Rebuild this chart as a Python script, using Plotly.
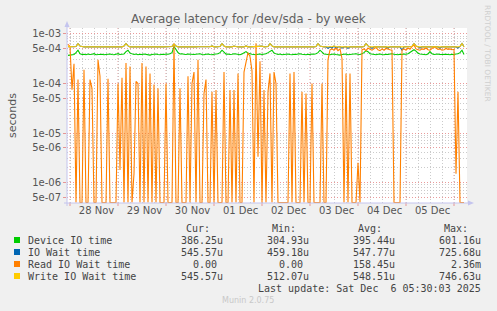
import plotly.graph_objects as go
from datetime import datetime, timedelta

# ---------------- data (hourly samples, microseconds) ----------------
START = datetime(2025, 11, 27, 23, 0)

device_io_us = [
    370, 375, 380, 385, 420, 470,
    400, 385, 390, 380, 395, 385, 390, 400, 380, 385, 395, 390, 380, 385, 390, 395, 385, 380, 390, 400, 385, 390, 395,
    440, 470, 410,
    390, 385, 395, 380, 390, 385, 395, 390, 380, 375, 385, 390, 395, 385, 380, 390, 385, 395, 390, 400, 420,
    560, 470, 420,
    395, 400, 390, 385, 395, 390, 380, 385, 390, 395, 400, 385, 380, 390, 395, 385, 380, 390, 395, 400, 420,
    470, 430,
    390, 395, 385, 390, 400, 395, 385, 380, 395, 420, 440, 410, 395, 390, 385, 380, 390, 395, 385, 390, 400, 420,
    450, 470, 410,
    390, 385, 395, 380, 385, 390, 395, 385, 380, 390, 385, 395, 400, 390, 385, 380, 390, 385, 395, 390, 400, 420,
    470, 420,
    395, 390, 385, 380, 390, 395, 385, 380, 375, 385, 390, 395, 380, 385, 390, 395, 400, 390, 385, 400, 420,
    460, 440,
    400, 390, 385, 380, 390, 395, 385, 380, 390, 385, 395, 400, 390, 385, 380, 390, 385, 395, 390, 400, 420, 440,
    480, 450,
    410, 395, 390, 385, 380, 395, 440, 400, 385, 390, 395, 385, 390, 395, 390, 385, 380, 390, 385, 395, 400, 420,
    470, 386,
]

io_wait_us = [
    555, 550, 548, 552, 560, 640, 570, 550, 548, 552,
    550, 548, 552, 550, 548, 550, 552, 550, 548, 550,
    552, 550, 548, 550, 552, 550, 548, 550, 570, 640,
    575, 550, 548, 552, 550, 548, 550, 552, 550, 548,
    550, 552, 550, 548, 550, 552, 550, 548, 550, 552,
    550, 548, 560, 620, 570, 550, 548, 552, 550, 548,
    550, 552, 550, 548, 550, 552, 550, 548, 550, 552,
    550, 552, 575, 550, 548, 552, 560, 640, 570, 550,
    548, 552, 550, 570, 550, 548, 552, 550, 548, 575,
    550, 548, 552, 550, 548, 550, 552, 570, 550, 548,
    560, 640, 575, 550, 548, 552, 550, 548, 550, 552,
    550, 548, 550, 552, 550, 548, 550, 552, 550, 548,
    550, 552, 550, 548, 560, 640, 570, 550, 548, 552,
    515, 548, 520, 570, 515, 548, 552, 520, 548, 550,
    515, 550, 548, 550, 552, 550, 548, 550, 560, 640,
    575, 550, 515, 552, 550, 548, 550, 552, 550, 548,
    520, 552, 550, 548, 550, 552, 550, 470, 550, 552,
    550, 548, 560, 640, 570, 550, 520, 552, 550, 548,
    552, 550, 548, 550, 552, 550, 515, 550, 552, 550,
    548, 550, 552, 550, 548, 520, 560, 640, 546,
]

read_wait_us = [
    620, 560, 75, 250, 0, 120, 0, 0, 190, 0,
    0, 120, 80, 0, 0, 300, 140, 0, 0, 0,
    125, 0, 0, 0, 0, 100, 1.8, 130, 0, 260,
    0, 220, 0, 1.5, 110, 100, 0, 260, 0, 220,
    0, 160, 0, 95, 0, 80, 0, 0, 0, 100,
    0, 0, 0, 650, 0, 0, 80, 0, 0, 0,
    140, 0, 100, 170, 0, 300, 0, 0, 63, 120,
    0, 0, 68, 0, 74, 0, 0, 0, 170, 0,
    0, 74, 0, 74, 0, 160, 0, 0, 170, 280,
    420, 350, 180, 0, 650, 3.3, 280, 0, 74, 0,
    68, 160, 0, 170, 100, 0, 0, 0, 0, 0,
    0, 160, 0, 170, 0, 0, 0, 68, 0, 63,
    0, 0, 100, 0, 0, 0, 0, 100, 0, 0,
    300, 480, 500, 470, 520, 460, 500, 320, 0, 160,
    0, 160, 0, 0, 0, 2.5, 0, 480, 500, 460,
    520, 490, 470, 500, 540, 480, 460, 500, 470, 510,
    490, 480, 470, 0, 0, 0, 0, 480, 500, 470,
    520, 490, 560, 600, 500, 480, 470, 500, 490, 520,
    480, 470, 500, 550, 520, 490, 500, 470, 480, 510,
    490, 500, 480, 490, 1.5, 68, 0, 0, 0,
]

write_wait_us = [
    555, 550, 548, 552, 560, 640, 570, 550, 548, 552,
    550, 548, 552, 550, 548, 550, 552, 550, 548, 550,
    552, 550, 548, 550, 552, 550, 548, 550, 570, 640,
    575, 550, 548, 552, 550, 548, 550, 552, 550, 548,
    550, 552, 550, 548, 550, 552, 550, 548, 550, 552,
    550, 548, 560, 620, 570, 550, 548, 552, 550, 548,
    550, 552, 550, 548, 550, 552, 550, 548, 550, 552,
    550, 552, 575, 550, 548, 552, 560, 640, 570, 550,
    548, 552, 550, 570, 550, 548, 552, 550, 548, 575,
    550, 548, 552, 550, 548, 550, 552, 570, 550, 548,
    560, 640, 575, 550, 548, 552, 550, 548, 550, 552,
    550, 548, 550, 552, 550, 548, 550, 552, 550, 548,
    550, 552, 550, 548, 560, 640, 570, 550, 548, 552,
    550, 548, 552, 570, 550, 548, 552, 550, 548, 550,
    552, 550, 548, 550, 552, 550, 548, 550, 560, 640,
    575, 550, 548, 552, 550, 548, 550, 552, 550, 548,
    550, 552, 550, 548, 550, 552, 550, 548, 550, 552,
    550, 548, 560, 640, 570, 550, 548, 552, 550, 548,
    552, 550, 548, 550, 552, 550, 548, 550, 552, 550,
    548, 550, 552, 550, 548, 550, 560, 640, 546,
]

series_names = ["Device IO time", "IO Wait time", "Read IO Wait time", "Write IO Wait time"]
series_colors = ["#00CC00", "#0066B3", "#FF8000", "#FFCC00"]
cur_text = ["386.25u", "545.57u", "0.00", "545.57u"]
min_text = ["304.93u", "459.18u", "0.00", "512.07u"]
avg_text = ["395.44u", "547.77u", "158.45u", "548.51u"]
max_text = ["601.16u", "725.68u", "2.36m", "746.63u"]

y_tick_vals = [1e-3, 5e-4, 1e-4, 5e-5, 1e-5, 5e-6, 1e-6, 5e-7]
y_tick_text = ["1e-03", "5e-04", "1e-04", "5e-05", "1e-05", "5e-06", "1e-06", "5e-07"]
day_labels = ["28 Nov", "29 Nov", "30 Nov", "01 Dec", "02 Dec", "03 Dec", "04 Dec", "05 Dec"]
first_day = datetime(2025, 11, 28)

title_text = "Average latency for /dev/sda - by week"
last_update = "Last update: Sat Dec\u00a0 6 05:30:03 2025"

# ---------------- geometry ----------------
W, H = 497, 311
L, R, T, B = 67, 30, 28, 108
PW, PH = W - L - R, H - T - B
X0 = datetime(2025, 11, 27, 22, 30)
X1 = X0 + timedelta(hours=200)
YLOG = [-6.414, -2.879]
FLOOR = 10 ** (-6.405)


def px(x):
    return (x - L) / PW


def py(y):
    return (T + PH - y) / PH


def to_s(v):
    return v * 1e-6 if v > 0 else FLOOR


fig = go.Figure()
for name, color, vals in zip(series_names, series_colors,
                             [device_io_us, io_wait_us, read_wait_us, write_wait_us]):
    fig.add_trace(go.Scatter(
        x=[START + timedelta(hours=i) for i in range(len(vals))],
        y=[to_s(v) for v in vals],
        mode="lines", name=name,
        line=dict(color=color, width=1.1),
        hoverinfo="skip",
    ))

MAJ = "rgba(225,120,120,0.75)"
MIN = "rgba(190,190,190,0.8)"
AX = "#c4c4ee"

six_h = []
t = datetime(2025, 11, 27, 18)
while t <= X1:
    six_h.append(t)
    t += timedelta(hours=6)

minor_y = []
for k in range(-7, -2):
    for m in (2, 3, 4, 6, 7, 8, 9):
        minor_y.append(m * 10 ** k)

fig.update_layout(
    width=W, height=H,
    margin=dict(l=L, r=R, t=T, b=B, autoexpand=False),
    paper_bgcolor="#F0F0F0", plot_bgcolor="#FFFFFF",
    showlegend=False,
    font=dict(family="DejaVu Sans", size=10, color="#555555"),
    xaxis=dict(
        type="date", range=[X0, X1],
        tickmode="array",
        tickvals=[first_day + timedelta(days=i, hours=13, minutes=15) for i in range(len(day_labels))],
        ticktext=day_labels,
        showgrid=False, zeroline=False, showline=False, ticks="",
        tickfont=dict(size=10, color="#555555"),
        minor=dict(tickmode="array", tickvals=six_h, showgrid=True,
                   gridcolor=MIN, griddash="1px,2px", gridwidth=1),
    ),
    yaxis=dict(
        type="log", range=YLOG,
        tickmode="array", tickvals=y_tick_vals, ticktext=y_tick_text,
        showgrid=True, gridcolor=MAJ, griddash="1px,2px", gridwidth=1,
        zeroline=False, showline=False,
        ticks="outside", ticklen=3, tickcolor=MAJ,
        tickfont=dict(size=10, color="#555555"),
        minor=dict(tickmode="array", tickvals=minor_y, showgrid=True,
                   gridcolor=MIN, griddash="1px,2px", gridwidth=1),
    ),
)

shapes = []
# daily (midnight) major grid lines and ticks
d = first_day
while d <= X1:
    shapes.append(dict(type="line", xref="x", yref="paper", x0=d, x1=d, y0=0, y1=1,
                       line=dict(color=MAJ, width=1, dash="1px,2px"), layer="between"))
    shapes.append(dict(type="line", xref="x", yref="paper", x0=d, x1=d, y0=py(206), y1=0,
                       line=dict(color=MAJ, width=1)))
    d += timedelta(days=1)
# axes with arrows
shapes.append(dict(type="line", xref="paper", yref="paper", x0=px(67), x1=px(67), y0=py(206), y1=py(24),
                   line=dict(color=AX, width=1)))
shapes.append(dict(type="line", xref="paper", yref="paper", x0=px(64), x1=px(470), y0=0, y1=0,
                   line=dict(color=AX, width=1)))
shapes.append(dict(type="path", xref="paper", yref="paper",
                   path=f"M {px(64.5)},{py(27)} L {px(69.5)},{py(27)} L {px(67)},{py(21)} Z",
                   fillcolor=AX, line=dict(width=0)))
shapes.append(dict(type="path", xref="paper", yref="paper",
                   path=f"M {px(468)},{py(200.5)} L {px(468)},{py(205.5)} L {px(474)},{py(203)} Z",
                   fillcolor=AX, line=dict(width=0)))

# legend colour squares
row_y = [240, 252, 264, 276]
for c, ry in zip(series_colors, row_y):
    shapes.append(dict(type="rect", xref="paper", yref="paper",
                       x0=px(14), x1=px(20), y0=py(ry - 3), y1=py(ry + 3),
                       fillcolor=c, line=dict(width=0)))
fig.update_layout(shapes=shapes)

ann = []
MONO = "DejaVu Sans Mono"
TXT = "#444444"


def add_text(text, x, y, anchor="left", size=10, family=MONO, color=TXT, angle=0):
    ann.append(dict(text=text, x=px(x), y=py(y), xref="paper", yref="paper",
                    xanchor=anchor, yanchor="middle", showarrow=False, textangle=angle,
                    font=dict(family=family, size=size, color=color)))


add_text(title_text, 248, 18.5, anchor="center", size=12, family="DejaVu Sans", color="#606060")
add_text("seconds", 12, 115, anchor="center", size=11, family="DejaVu Sans", color="#555555", angle=-90)
add_text("RRDTOOL / TOBI OETIKER", 488, 53, anchor="center", size=7.5, family="DejaVu Sans",
         color="#cfcfcf", angle=90)

for hdr, xr in zip(["Cur:", "Min:", "Avg:", "Max:"], [212.3, 298.3, 384.3, 470]):
    add_text(hdr, xr, 228, anchor="right")


def fmt(s):
    if s[-1].isdigit():
        s = s + "\u00a0"
    return s


for i, ry in enumerate(row_y):
    add_text(series_names[i], 26, ry)
    for col, xr in zip([cur_text, min_text, avg_text, max_text], [225.3, 311, 396.7, 482.7]):
        add_text(fmt(col[i]), xr, ry, anchor="right")

add_text(last_update, 482.7, 288, anchor="right")
add_text("Munin 2.0.75", 248, 300.5, anchor="center", size=8, family="DejaVu Sans", color="#c8c8c8")

fig.update_layout(annotations=ann)
fig.write_html("out.html")
